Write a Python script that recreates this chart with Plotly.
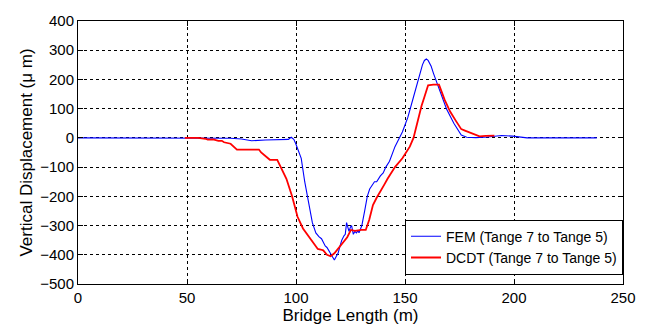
import plotly.graph_objects as go

# FEM (Tange 7 to Tange 5)
fem_x = [0, 20, 40, 60, 70, 75, 79.6, 86, 92, 96.5, 97.8, 99.0, 99.9, 101, 102.4, 104, 105.8, 107.5,
         109.1, 110.5, 111.7, 113.4, 114.2, 115, 116, 116.7, 117.6, 118.5, 119.3, 120.2, 121, 122.0,
         122.6, 123.2, 123.8, 124.3, 125.0, 125.5, 126.3, 127.0, 127.7, 128.4, 128.9, 130.2, 131.5,
         132.7, 133.8, 134.9, 136, 137, 138.7, 140, 141.2, 142.9, 145.4, 148.8, 151.3, 153.9, 156.4,
         158.0, 158.9, 159.8, 160.6, 162, 163.1, 165.6, 169, 172.4, 175.8, 178.3, 182.5, 188, 194.3,
         199.4, 203, 206, 215, 225, 238]
fem_y = [0, 0, 0, 0, -1, -4, -10, -7, -5, -5, 2, -5, -20, -40, -70, -150, -220, -290,
         -325, -338, -345, -370, -375, -385, -395, -405, -418, -405, -395, -370, -350, -335,
         -330, -290, -305, -320, -305, -300, -330, -320, -325, -318, -325, -300, -250,
         -200, -175, -160, -150, -150, -130, -120, -100, -80, -30, 20, 70, 140, 210,
         250, 265, 270, 265, 245, 220, 170, 100, 50, 10, 2, 1, 3, 8,
         6, 3, 0, 0, 0, 0]

# DCDT (Tange 7 to Tange 5)
dcdt_x = [49, 55, 58.5, 59.5, 62, 63, 64.4, 66, 67, 70, 71.5, 72.9, 78, 83, 84, 85.5, 88, 91.4, 92.3, 93.1,
          95.6, 98.2, 100.7, 103.2, 106.6, 108.5, 110, 111.3, 112.5, 114.2, 115.9, 117.6, 120.1,
          123.5, 125.2, 127, 130, 132, 133.6, 135.3, 137, 138.7, 140.5, 142, 145.4, 148.8, 150.5,
          152.2, 153.9, 155.2, 156.4, 157.6, 158.9, 159.8, 160.6, 163, 165.6, 168.2, 170.7, 173.2,
          175.8, 177.5, 180.9, 184.2, 187, 191]
dcdt_y = [0, 0, -3, -6, -5, -8, -10, -10, -15, -20, -30, -40, -40, -40, -50, -60, -75, -75, -90, -100,
          -140, -200, -270, -310, -345, -365, -380, -382, -385, -400, -405, -395, -370,
          -340, -315, -318, -315, -315, -280, -230, -205, -185, -160, -140, -100, -70, -50,
          -30, 0, 40, 80, 110, 140, 165, 180, 182, 182, 130, 90, 60,
          30, 25, 15, 5, 7, 8]

x_ticks = [0, 50, 100, 150, 200, 250]
y_ticks = [400, 300, 200, 100, 0, -100, -200, -300, -400, -500]

FONT = "Liberation Sans, Arial, sans-serif"

fig = go.Figure()
fig.add_trace(go.Scatter(x=fem_x, y=fem_y, mode="lines", name="FEM (Tange 7 to Tange 5)",
                         line=dict(color="#0000ff", width=1.1)))
fig.add_trace(go.Scatter(x=dcdt_x, y=dcdt_y, mode="lines", name="DCDT (Tange 7 to Tange 5)",
                         line=dict(color="#ff0000", width=1.8)))

axis_common = dict(
    showline=True, linecolor="black", linewidth=1, mirror="ticks",
    ticks="inside", ticklen=5, tickcolor="black",
    showgrid=True, gridcolor="black", griddash="dot", gridwidth=1,
    zeroline=False, tickfont=dict(family=FONT, size=15, color="black"),
)

fig.update_layout(
    width=648, height=333,
    margin=dict(l=78, r=14, t=13, b=49),
    paper_bgcolor="white", plot_bgcolor="white",
    font=dict(family=FONT, color="black"),
    xaxis=dict(range=[0, 250], tickvals=x_ticks, ticktext=[str(v) for v in x_ticks],
               title=dict(text="Bridge Length (m)", font=dict(family=FONT, size=17), standoff=1),
               **axis_common),
    yaxis=dict(range=[-500, 400], tickvals=y_ticks,
               ticktext=[str(v).replace("-", "\u2212") for v in y_ticks],
               title=dict(text="Vertical Displacement (\u03bc m)", font=dict(family=FONT, size=17), standoff=3),
               **axis_common),
    legend=dict(x=0.6, y=0.14, xanchor="left", yanchor="middle",
                bordercolor="black", borderwidth=1, bgcolor="white",
                font=dict(family=FONT, size=14), tracegroupgap=0),
    showlegend=True,
)

fig.write_html("out.html")
